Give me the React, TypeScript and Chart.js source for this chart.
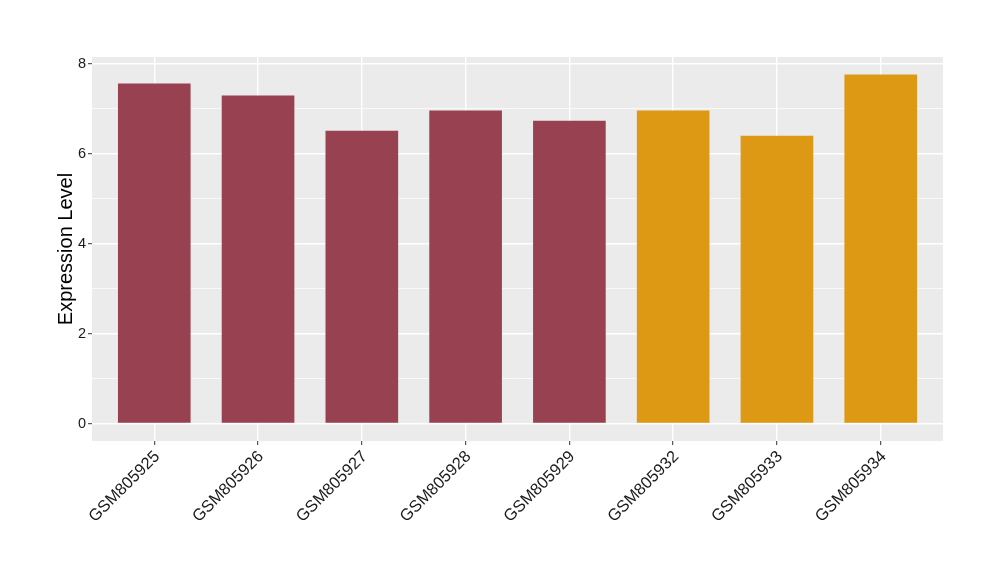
import React, { useEffect, useRef } from "react";
import { Chart, registerables } from "chart.js";

Chart.register(...registerables);

const categories = [
  "GSM805925",
  "GSM805926",
  "GSM805927",
  "GSM805928",
  "GSM805929",
  "GSM805932",
  "GSM805933",
  "GSM805934",
];
const values = [7.56, 7.29, 6.51, 6.96, 6.73, 6.96, 6.40, 7.76];
const groups = ["A", "A", "A", "A", "A", "B", "B", "B"];
const groupColors: Record<string, string> = { A: "#984150", B: "#DD9914" };
const yTicks = [0, 1, 2, 3, 4, 5, 6, 7, 8];
const yTitle = "Expression Level";

const panelBg = {
  id: "panelBg",
  beforeDraw(chart: any) {
    const { ctx, chartArea } = chart;
    ctx.save();
    ctx.fillStyle = "#EBEBEB";
    ctx.fillRect(
      chartArea.left,
      chartArea.top,
      chartArea.right - chartArea.left,
      chartArea.bottom - chartArea.top
    );
    ctx.restore();
  },
};

export default function App() {
  const ref = useRef<HTMLCanvasElement | null>(null);
  useEffect(() => {
    if (!ref.current) return;
    const data = categories.map((c, i) => ({ x: i + 1, y: values[i] }));
    const colors = groups.map((g) => groupColors[g]);
    const chart = new Chart(ref.current, {
      type: "bar",
      data: {
        datasets: [
          {
            data: data as any,
            backgroundColor: colors,
            borderWidth: 0,
            barPercentage: 0.7,
            categoryPercentage: 1,
          },
        ],
      },
      plugins: [panelBg],
      options: {
        animation: false,
        responsive: false,
        maintainAspectRatio: false,
        layout: { padding: { top: 57, right: 57, left: 0, bottom: 0 } },
        plugins: { legend: { display: false }, tooltip: { enabled: false } },
        scales: {
          x: {
            type: "linear",
            offset: false,
            min: 0.4,
            max: 8.6,
            afterBuildTicks: (scale: any) => {
              scale.ticks = categories.map((_, i) => ({ value: i + 1 }));
            },
            afterFit: (scale: any) => {
              scale.height = 139;
            },
            border: { display: false },
            grid: {
              offset: false,
              color: "#FFFFFF",
              lineWidth: 1.4,
              tickColor: "#333333",
              tickLength: 4,
              tickWidth: 1,
            },
            ticks: {
              autoSkip: false,
              maxRotation: 45,
              minRotation: 45,
              padding: 2,
              labelOffset: 3,
              color: "#1A1A1A",
              font: { family: "Liberation Sans", size: 16.5 },
              callback: (v: any) => categories[Math.round(Number(v)) - 1] ?? "",
            },
          },
          y: {
            type: "linear",
            min: -0.388,
            max: 8.148,
            afterBuildTicks: (scale: any) => {
              scale.ticks = yTicks.map((v) => ({ value: v }));
            },
            afterFit: (scale: any) => {
              scale.width = 92;
            },
            border: { display: false },
            grid: {
              color: "#FFFFFF",
              lineWidth: (c: any) => (c.tick && c.tick.value % 2 === 0 ? 1.4 : 0.7),
              tickColor: (c: any) =>
                c.tick && c.tick.value % 2 === 0 ? "#333333" : "rgba(0,0,0,0)",
              tickLength: 4,
              tickWidth: 1,
            },
            ticks: {
              padding: 2,
              color: "#1A1A1A",
              font: { family: "Liberation Sans", size: 14.5 },
              callback: (v: any) => (Number(v) % 2 === 0 ? String(v) : ""),
            },
            title: {
              display: true,
              text: yTitle,
              color: "#000000",
              font: { family: "Liberation Sans", size: 20 },
              padding: { top: 54, bottom: 0 },
            },
          },
        },
      },
    });
    return () => chart.destroy();
  }, []);
  return (
    <div style={{ position: "absolute", left: 0, top: 0, width: 1000, height: 580, background: "#FFFFFF" }}>
      <canvas ref={ref} width={1000} height={580} style={{ width: 1000, height: 580 }} />
    </div>
  );
}
